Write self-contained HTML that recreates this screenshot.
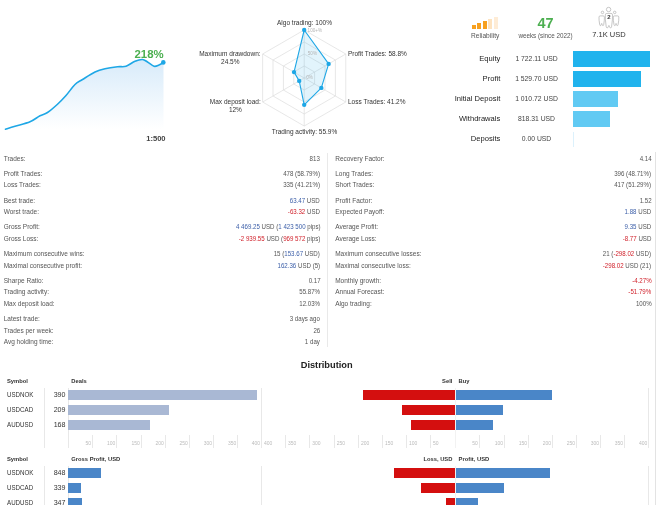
<!DOCTYPE html>
<html><head><meta charset="utf-8"><title>Signal statistics</title>
<style>
html,body{margin:0;padding:0;background:#fff;}
body{width:656px;height:505px;position:relative;overflow:hidden;font-family:"Liberation Sans", sans-serif;}
.t{position:absolute;white-space:nowrap;}
.b{position:absolute;}
</style></head><body>
<svg class="b" style="left:0;top:0" width="220" height="150" viewBox="0 0 220 150">
<defs><linearGradient id="g1" gradientUnits="userSpaceOnUse" x1="0" y1="60" x2="0" y2="129"><stop offset="0" stop-color="#d8ebfa"/><stop offset="1" stop-color="#ffffff"/></linearGradient></defs>
<path d="M5.50,129.25 C7.08,128.75 10.92,127.50 15.00,126.25 C19.08,125.00 25.83,123.50 30.00,121.75 C34.17,120.00 37.08,117.29 40.00,115.75 C42.92,114.21 44.58,114.42 47.50,112.50 C50.42,110.58 54.42,107.08 57.50,104.25 C60.58,101.42 63.08,98.79 66.00,95.50 C68.92,92.21 72.25,87.17 75.00,84.50 C77.75,81.83 79.17,81.58 82.50,79.50 C85.83,77.42 91.25,73.79 95.00,72.00 C98.75,70.21 101.25,69.62 105.00,68.75 C108.75,67.88 114.00,67.17 117.50,66.75 C121.00,66.33 123.08,67.17 126.00,66.25 C128.92,65.33 132.25,62.38 135.00,61.25 C137.75,60.12 140.42,59.38 142.50,59.50 C144.58,59.62 145.58,60.88 147.50,62.00 C149.42,63.12 152.08,65.75 154.00,66.25 C155.92,66.75 157.42,65.62 159.00,65.00 C160.58,64.38 162.75,62.92 163.50,62.50 L163.50,132 L5.50,132 Z" fill="url(#g1)"/>
<path d="M5.50,129.25 C7.08,128.75 10.92,127.50 15.00,126.25 C19.08,125.00 25.83,123.50 30.00,121.75 C34.17,120.00 37.08,117.29 40.00,115.75 C42.92,114.21 44.58,114.42 47.50,112.50 C50.42,110.58 54.42,107.08 57.50,104.25 C60.58,101.42 63.08,98.79 66.00,95.50 C68.92,92.21 72.25,87.17 75.00,84.50 C77.75,81.83 79.17,81.58 82.50,79.50 C85.83,77.42 91.25,73.79 95.00,72.00 C98.75,70.21 101.25,69.62 105.00,68.75 C108.75,67.88 114.00,67.17 117.50,66.75 C121.00,66.33 123.08,67.17 126.00,66.25 C128.92,65.33 132.25,62.38 135.00,61.25 C137.75,60.12 140.42,59.38 142.50,59.50 C144.58,59.62 145.58,60.88 147.50,62.00 C149.42,63.12 152.08,65.75 154.00,66.25 C155.92,66.75 157.42,65.62 159.00,65.00 C160.58,64.38 162.75,62.92 163.50,62.50" fill="none" stroke="#1ea7e6" stroke-width="1.6" stroke-linecap="round" stroke-linejoin="round"/>
<circle cx="163.3" cy="62.4" r="2.3" fill="#1ea7e6"/>
</svg>
<div class="t" style="top:48.40px;font-size:11.4px;color:#4caf50;line-height:12px;font-weight:bold;right:492.40px;">218%</div>
<div class="t" style="top:133.20px;font-size:7.6px;color:#444;line-height:12px;font-weight:bold;right:490.40px;">1:500</div>
<svg class="b" style="left:0;top:0" width="656" height="150" viewBox="0 0 656 150"><polygon points="304.20,66.00 314.59,72.00 314.59,84.00 304.20,90.00 293.81,84.00 293.81,72.00" fill="none" stroke="#dcdcdc" stroke-width="0.7"/><polygon points="304.20,54.00 324.98,66.00 324.98,90.00 304.20,102.00 283.42,90.00 283.42,66.00" fill="none" stroke="#dcdcdc" stroke-width="0.7"/><polygon points="304.20,42.00 335.38,60.00 335.38,96.00 304.20,114.00 273.02,96.00 273.02,60.00" fill="none" stroke="#dcdcdc" stroke-width="0.7"/><polygon points="304.20,30.00 345.77,54.00 345.77,102.00 304.20,126.00 262.63,102.00 262.63,54.00" fill="none" stroke="#dcdcdc" stroke-width="0.7"/><line x1="304.2" y1="78.0" x2="304.20" y2="30.00" stroke="#dcdcdc" stroke-width="0.7"/><line x1="304.2" y1="78.0" x2="345.77" y2="54.00" stroke="#dcdcdc" stroke-width="0.7"/><line x1="304.2" y1="78.0" x2="345.77" y2="102.00" stroke="#dcdcdc" stroke-width="0.7"/><line x1="304.2" y1="78.0" x2="304.20" y2="126.00" stroke="#dcdcdc" stroke-width="0.7"/><line x1="304.2" y1="78.0" x2="262.63" y2="102.00" stroke="#dcdcdc" stroke-width="0.7"/><line x1="304.2" y1="78.0" x2="262.63" y2="54.00" stroke="#dcdcdc" stroke-width="0.7"/><polygon points="304.20,30.00 328.64,63.89 321.33,87.89 304.20,104.83 299.21,80.88 294.02,72.12" fill="#1ea7e6" fill-opacity="0.13" stroke="#1ea7e6" stroke-width="1.1" stroke-linejoin="round"/><circle cx="304.20" cy="30.00" r="2.2" fill="#1ea7e6"/><circle cx="328.64" cy="63.89" r="2.2" fill="#1ea7e6"/><circle cx="321.33" cy="87.89" r="2.2" fill="#1ea7e6"/><circle cx="304.20" cy="104.83" r="2.2" fill="#1ea7e6"/><circle cx="299.21" cy="80.88" r="2.2" fill="#1ea7e6"/><circle cx="294.02" cy="72.12" r="2.2" fill="#1ea7e6"/></svg>
<div class="t" style="top:24.60px;font-size:4.6px;color:#b5b5b5;line-height:12px;left:307.60px;">100+%</div>
<div class="t" style="top:48.30px;font-size:4.6px;color:#b5b5b5;line-height:12px;left:307.80px;">50%</div>
<div class="t" style="top:72.00px;font-size:4.6px;color:#b5b5b5;line-height:12px;left:306.20px;">0%</div>
<div class="t" style="top:17.20px;font-size:6.5px;color:#333;line-height:12px;left:154.50px;width:300px;text-align:center;">Algo trading: 100%</div>
<div class="t" style="top:125.50px;font-size:6.5px;color:#333;line-height:12px;left:154.50px;width:300px;text-align:center;">Trading activity: 55.9%</div>
<div class="t" style="top:47.50px;font-size:6.5px;color:#333;line-height:12px;left:348.00px;">Profit Trades: 58.8%</div>
<div class="t" style="top:95.50px;font-size:6.5px;color:#333;line-height:12px;left:348.00px;">Loss Trades: 41.2%</div>
<div class="t" style="top:47.50px;font-size:6.5px;color:#333;line-height:12px;left:79.90px;width:300px;text-align:center;">Maximum drawdown:</div>
<div class="t" style="top:55.50px;font-size:6.5px;color:#333;line-height:12px;left:80.30px;width:300px;text-align:center;">24.5%</div>
<div class="t" style="top:95.50px;font-size:6.5px;color:#333;line-height:12px;left:85.30px;width:300px;text-align:center;">Max deposit load:</div>
<div class="t" style="top:103.50px;font-size:6.5px;color:#333;line-height:12px;left:85.40px;width:300px;text-align:center;">12%</div>
<div class="b" style="left:471.90px;top:25.20px;width:4.00px;height:4.00px;background:#f7a01e;"></div>
<div class="b" style="left:477.40px;top:23.20px;width:4.00px;height:6.00px;background:#f7a01e;"></div>
<div class="b" style="left:482.90px;top:21.20px;width:4.00px;height:8.00px;background:#f7a01e;"></div>
<div class="b" style="left:488.40px;top:19.20px;width:4.00px;height:10.00px;background:#fde3c0;"></div>
<div class="b" style="left:493.90px;top:17.20px;width:4.00px;height:12.00px;background:#feecd6;"></div>
<div class="t" style="top:29.50px;font-size:6.6px;color:#555;line-height:12px;left:335.20px;width:300px;text-align:center;">Reliability</div>
<div class="t" style="top:16.50px;font-size:14.5px;color:#4caf50;line-height:12px;font-weight:bold;left:395.50px;width:300px;text-align:center;">47</div>
<div class="t" style="top:29.50px;font-size:6.3px;color:#555;line-height:12px;left:395.50px;width:300px;text-align:center;">weeks (since 2022)</div>
<svg class="b" style="left:595px;top:2px" width="28" height="28" viewBox="595 2 28 28" fill="none" stroke="#b4b4b4" stroke-width="0.75">
<circle cx="608.6" cy="9.5" r="2.2"/>
<circle cx="602.5" cy="12.4" r="1.25"/>
<circle cx="614.7" cy="12.4" r="1.25"/>
<path d="M599.00,17.10 Q599.00,15.90 600.20,15.90 L603.20,15.90 Q604.40,15.90 604.40,17.10 L604.32,20.27 L603.70,24.70 Q603.59,25.60 602.94,25.60 Q602.29,25.60 602.19,24.70 L601.89,23.70 Q601.70,23.00 601.51,23.70 L601.21,24.70 Q601.11,25.60 600.46,25.60 Q599.81,25.60 599.70,24.70 L599.08,20.27 Z"/>
<path d="M613.30,17.10 Q613.30,15.90 614.50,15.90 L617.60,15.90 Q618.80,15.90 618.80,17.10 L618.72,20.27 L618.08,24.70 Q617.97,25.60 617.31,25.60 Q616.65,25.60 616.54,24.70 L616.24,23.70 Q616.05,23.00 615.86,23.70 L615.55,24.70 Q615.44,25.60 614.78,25.60 Q614.12,25.60 614.01,24.70 L613.38,20.27 Z"/>
<path d="M605.30,14.90 Q605.30,13.40 606.80,13.40 L611.00,13.40 Q612.50,13.40 612.50,14.90 L612.39,19.88 L611.56,26.90 Q611.42,27.80 610.56,27.80 Q609.69,27.80 609.55,26.90 L609.15,25.70 Q608.90,25.00 608.65,25.70 L608.25,26.90 Q608.11,27.80 607.24,27.80 Q606.38,27.80 606.24,26.90 L605.41,19.88 Z"/>
</svg>
<div class="t" style="top:11.10px;font-size:6px;color:#333;line-height:12px;font-weight:bold;left:458.90px;width:300px;text-align:center;">2</div>
<div class="t" style="top:29.00px;font-size:7.5px;color:#333;line-height:12px;left:459.00px;width:300px;text-align:center;">7.1K USD</div>
<div class="t" style="top:52.80px;font-size:7.6px;color:#222;line-height:12px;right:155.70px;">Equity</div>
<div class="t" style="top:52.80px;font-size:6.8px;color:#444;line-height:12px;left:386.50px;width:300px;text-align:center;">1 722.11 USD</div>
<div class="b" style="left:573.10px;top:50.90px;width:76.60px;height:15.80px;background:#21b3ed;"></div>
<div class="t" style="top:72.95px;font-size:7.6px;color:#222;line-height:12px;right:155.70px;">Profit</div>
<div class="t" style="top:72.95px;font-size:6.8px;color:#444;line-height:12px;left:386.50px;width:300px;text-align:center;">1 529.70 USD</div>
<div class="b" style="left:573.10px;top:71.05px;width:67.90px;height:15.80px;background:#21b3ed;"></div>
<div class="t" style="top:93.10px;font-size:7.6px;color:#222;line-height:12px;right:155.70px;">Initial Deposit</div>
<div class="t" style="top:93.10px;font-size:6.8px;color:#444;line-height:12px;left:386.50px;width:300px;text-align:center;">1 010.72 USD</div>
<div class="b" style="left:573.10px;top:91.20px;width:44.60px;height:15.80px;background:#61caf3;"></div>
<div class="t" style="top:113.25px;font-size:7.6px;color:#222;line-height:12px;right:155.70px;">Withdrawals</div>
<div class="t" style="top:113.25px;font-size:6.8px;color:#444;line-height:12px;left:386.50px;width:300px;text-align:center;">818.31 USD</div>
<div class="b" style="left:573.10px;top:111.35px;width:36.80px;height:15.80px;background:#61caf3;"></div>
<div class="t" style="top:133.40px;font-size:7.6px;color:#222;line-height:12px;right:155.70px;">Deposits</div>
<div class="t" style="top:133.40px;font-size:6.8px;color:#444;line-height:12px;left:386.50px;width:300px;text-align:center;">0.00 USD</div>
<div class="b" style="left:573.10px;top:131.50px;width:0.60px;height:15.80px;background:#dcf1fc;"></div>
<div class="b" style="left:327.00px;top:153.00px;width:0.80px;height:193.50px;background:#e9e9e9;"></div>
<div class="b" style="left:655.00px;top:152.00px;width:1.00px;height:353.00px;background:#e3e3e3;"></div>
<div class="t" style="top:152.60px;font-size:6.5px;color:#555;line-height:12px;left:3.70px;">Trades:</div>
<div class="t" style="top:152.60px;font-size:6.5px;color:#555;line-height:12px;right:335.80px;transform:scaleX(0.945);transform-origin:right center;">813</div>
<div class="t" style="top:167.90px;font-size:6.5px;color:#555;line-height:12px;left:3.70px;">Profit Trades:</div>
<div class="t" style="top:167.90px;font-size:6.5px;color:#555;line-height:12px;right:335.80px;transform:scaleX(0.945);transform-origin:right center;">478 (58.79%)</div>
<div class="t" style="top:179.35px;font-size:6.5px;color:#555;line-height:12px;left:3.70px;">Loss Trades:</div>
<div class="t" style="top:179.35px;font-size:6.5px;color:#555;line-height:12px;right:335.80px;transform:scaleX(0.945);transform-origin:right center;">335 (41.21%)</div>
<div class="t" style="top:194.65px;font-size:6.5px;color:#555;line-height:12px;left:3.70px;">Best trade:</div>
<div class="t" style="top:194.65px;font-size:6.5px;color:#555;line-height:12px;right:335.80px;transform:scaleX(0.945);transform-origin:right center;"><span style="color:#3b5ea8">63.47</span> USD</div>
<div class="t" style="top:206.10px;font-size:6.5px;color:#555;line-height:12px;left:3.70px;">Worst trade:</div>
<div class="t" style="top:206.10px;font-size:6.5px;color:#555;line-height:12px;right:335.80px;transform:scaleX(0.945);transform-origin:right center;"><span style="color:#d0202a">-63.32</span> USD</div>
<div class="t" style="top:221.40px;font-size:6.5px;color:#555;line-height:12px;left:3.70px;">Gross Profit:</div>
<div class="t" style="top:221.40px;font-size:6.5px;color:#555;line-height:12px;right:335.80px;transform:scaleX(0.945);transform-origin:right center;"><span style="color:#3b5ea8">4 469.25</span> USD (<span style="color:#3b5ea8">1 423 500</span> pips)</div>
<div class="t" style="top:232.85px;font-size:6.5px;color:#555;line-height:12px;left:3.70px;">Gross Loss:</div>
<div class="t" style="top:232.85px;font-size:6.5px;color:#555;line-height:12px;right:335.80px;transform:scaleX(0.945);transform-origin:right center;"><span style="color:#d0202a">-2 939.55</span> USD (<span style="color:#d0202a">969 572</span> pips)</div>
<div class="t" style="top:248.15px;font-size:6.5px;color:#555;line-height:12px;left:3.70px;">Maximum consecutive wins:</div>
<div class="t" style="top:248.15px;font-size:6.5px;color:#555;line-height:12px;right:335.80px;transform:scaleX(0.945);transform-origin:right center;">15 (<span style="color:#3b5ea8">153.67</span> USD)</div>
<div class="t" style="top:259.60px;font-size:6.5px;color:#555;line-height:12px;left:3.70px;">Maximal consecutive profit:</div>
<div class="t" style="top:259.60px;font-size:6.5px;color:#555;line-height:12px;right:335.80px;transform:scaleX(0.945);transform-origin:right center;"><span style="color:#3b5ea8">162.36</span> USD (5)</div>
<div class="t" style="top:274.90px;font-size:6.5px;color:#555;line-height:12px;left:3.70px;">Sharpe Ratio:</div>
<div class="t" style="top:274.90px;font-size:6.5px;color:#555;line-height:12px;right:335.80px;transform:scaleX(0.945);transform-origin:right center;">0.17</div>
<div class="t" style="top:286.35px;font-size:6.5px;color:#555;line-height:12px;left:3.70px;">Trading activity:</div>
<div class="t" style="top:286.35px;font-size:6.5px;color:#555;line-height:12px;right:335.80px;transform:scaleX(0.945);transform-origin:right center;">55.87%</div>
<div class="t" style="top:297.80px;font-size:6.5px;color:#555;line-height:12px;left:3.70px;">Max deposit load:</div>
<div class="t" style="top:297.80px;font-size:6.5px;color:#555;line-height:12px;right:335.80px;transform:scaleX(0.945);transform-origin:right center;">12.03%</div>
<div class="t" style="top:313.10px;font-size:6.5px;color:#555;line-height:12px;left:3.70px;">Latest trade:</div>
<div class="t" style="top:313.10px;font-size:6.5px;color:#555;line-height:12px;right:335.80px;transform:scaleX(0.945);transform-origin:right center;">3 days ago</div>
<div class="t" style="top:324.55px;font-size:6.5px;color:#555;line-height:12px;left:3.70px;">Trades per week:</div>
<div class="t" style="top:324.55px;font-size:6.5px;color:#555;line-height:12px;right:335.80px;transform:scaleX(0.945);transform-origin:right center;">26</div>
<div class="t" style="top:336.00px;font-size:6.5px;color:#555;line-height:12px;left:3.70px;">Avg holding time:</div>
<div class="t" style="top:336.00px;font-size:6.5px;color:#555;line-height:12px;right:335.80px;transform:scaleX(0.945);transform-origin:right center;">1 day</div>
<div class="t" style="top:152.60px;font-size:6.5px;color:#555;line-height:12px;left:335.20px;">Recovery Factor:</div>
<div class="t" style="top:152.60px;font-size:6.5px;color:#555;line-height:12px;right:4.70px;transform:scaleX(0.945);transform-origin:right center;">4.14</div>
<div class="t" style="top:167.90px;font-size:6.5px;color:#555;line-height:12px;left:335.20px;">Long Trades:</div>
<div class="t" style="top:167.90px;font-size:6.5px;color:#555;line-height:12px;right:4.70px;transform:scaleX(0.945);transform-origin:right center;">396 (48.71%)</div>
<div class="t" style="top:179.35px;font-size:6.5px;color:#555;line-height:12px;left:335.20px;">Short Trades:</div>
<div class="t" style="top:179.35px;font-size:6.5px;color:#555;line-height:12px;right:4.70px;transform:scaleX(0.945);transform-origin:right center;">417 (51.29%)</div>
<div class="t" style="top:194.65px;font-size:6.5px;color:#555;line-height:12px;left:335.20px;">Profit Factor:</div>
<div class="t" style="top:194.65px;font-size:6.5px;color:#555;line-height:12px;right:4.70px;transform:scaleX(0.945);transform-origin:right center;">1.52</div>
<div class="t" style="top:206.10px;font-size:6.5px;color:#555;line-height:12px;left:335.20px;">Expected Payoff:</div>
<div class="t" style="top:206.10px;font-size:6.5px;color:#555;line-height:12px;right:4.70px;transform:scaleX(0.945);transform-origin:right center;"><span style="color:#3b5ea8">1.88</span> USD</div>
<div class="t" style="top:221.40px;font-size:6.5px;color:#555;line-height:12px;left:335.20px;">Average Profit:</div>
<div class="t" style="top:221.40px;font-size:6.5px;color:#555;line-height:12px;right:4.70px;transform:scaleX(0.945);transform-origin:right center;"><span style="color:#3b5ea8">9.35</span> USD</div>
<div class="t" style="top:232.85px;font-size:6.5px;color:#555;line-height:12px;left:335.20px;">Average Loss:</div>
<div class="t" style="top:232.85px;font-size:6.5px;color:#555;line-height:12px;right:4.70px;transform:scaleX(0.945);transform-origin:right center;"><span style="color:#d0202a">-8.77</span> USD</div>
<div class="t" style="top:248.15px;font-size:6.5px;color:#555;line-height:12px;left:335.20px;">Maximum consecutive losses:</div>
<div class="t" style="top:248.15px;font-size:6.5px;color:#555;line-height:12px;right:4.70px;transform:scaleX(0.945);transform-origin:right center;">21 (<span style="color:#d0202a">-298.02</span> USD)</div>
<div class="t" style="top:259.60px;font-size:6.5px;color:#555;line-height:12px;left:335.20px;">Maximal consecutive loss:</div>
<div class="t" style="top:259.60px;font-size:6.5px;color:#555;line-height:12px;right:4.70px;transform:scaleX(0.945);transform-origin:right center;"><span style="color:#d0202a">-298.02</span> USD (21)</div>
<div class="t" style="top:274.90px;font-size:6.5px;color:#555;line-height:12px;left:335.20px;">Monthly growth:</div>
<div class="t" style="top:274.90px;font-size:6.5px;color:#555;line-height:12px;right:4.70px;transform:scaleX(0.945);transform-origin:right center;"><span style="color:#d0202a">-4.27%</span></div>
<div class="t" style="top:286.35px;font-size:6.5px;color:#555;line-height:12px;left:335.20px;">Annual Forecast:</div>
<div class="t" style="top:286.35px;font-size:6.5px;color:#555;line-height:12px;right:4.70px;transform:scaleX(0.945);transform-origin:right center;"><span style="color:#d0202a">-51.79%</span></div>
<div class="t" style="top:297.80px;font-size:6.5px;color:#555;line-height:12px;left:335.20px;">Algo trading:</div>
<div class="t" style="top:297.80px;font-size:6.5px;color:#555;line-height:12px;right:4.70px;transform:scaleX(0.945);transform-origin:right center;">100%</div>
<div class="t" style="top:358.60px;font-size:9.27px;color:#222;line-height:12px;font-weight:bold;left:176.70px;width:300px;text-align:center;">Distribution</div>
<div class="t" style="top:375.20px;font-size:5.8px;color:#333;line-height:12px;font-weight:bold;left:6.90px;">Symbol</div>
<div class="t" style="top:375.20px;font-size:5.8px;color:#333;line-height:12px;font-weight:bold;left:71.30px;">Deals</div>
<div class="t" style="top:375.20px;font-size:5.8px;color:#333;line-height:12px;font-weight:bold;right:203.60px;">Sell</div>
<div class="t" style="top:375.20px;font-size:5.8px;color:#333;line-height:12px;font-weight:bold;left:458.60px;">Buy</div>
<div class="b" style="left:44.20px;top:388.10px;width:0.80px;height:59.50px;background:#e8e8e8;"></div>
<div class="b" style="left:67.90px;top:388.10px;width:0.80px;height:59.50px;background:#e8e8e8;"></div>
<div class="b" style="left:261.10px;top:388.10px;width:0.80px;height:59.50px;background:#e8e8e8;"></div>
<div class="b" style="left:648.35px;top:388.10px;width:0.80px;height:59.50px;background:#e8e8e8;"></div>
<div class="t" style="top:388.90px;font-size:6.8px;color:#333;line-height:12px;left:6.90px;transform:scaleX(0.91);transform-origin:left center;">USDNOK</div>
<div class="t" style="top:388.90px;font-size:7.1px;color:#333;line-height:12px;right:590.50px;">390</div>
<div class="b" style="left:68.30px;top:389.90px;width:188.56px;height:10.00px;background:#a9b8d4;"></div>
<div class="b" style="left:362.75px;top:389.90px;width:92.25px;height:10.00px;background:#d40f0f;"></div>
<div class="b" style="left:455.50px;top:389.90px;width:96.60px;height:10.00px;background:#4a86c8;"></div>
<div class="t" style="top:403.90px;font-size:6.8px;color:#333;line-height:12px;left:6.90px;transform:scaleX(0.91);transform-origin:left center;">USDCAD</div>
<div class="t" style="top:403.90px;font-size:7.1px;color:#333;line-height:12px;right:590.50px;">209</div>
<div class="b" style="left:68.30px;top:404.90px;width:101.05px;height:10.00px;background:#a9b8d4;"></div>
<div class="b" style="left:401.60px;top:404.90px;width:53.41px;height:10.00px;background:#d40f0f;"></div>
<div class="b" style="left:455.50px;top:404.90px;width:47.82px;height:10.00px;background:#4a86c8;"></div>
<div class="t" style="top:418.90px;font-size:6.8px;color:#333;line-height:12px;left:6.90px;transform:scaleX(0.91);transform-origin:left center;">AUDUSD</div>
<div class="t" style="top:418.90px;font-size:7.1px;color:#333;line-height:12px;right:590.50px;">168</div>
<div class="b" style="left:68.30px;top:419.90px;width:81.23px;height:10.00px;background:#a9b8d4;"></div>
<div class="b" style="left:411.31px;top:419.90px;width:43.70px;height:10.00px;background:#d40f0f;"></div>
<div class="b" style="left:455.50px;top:419.90px;width:37.67px;height:10.00px;background:#4a86c8;"></div>
<div class="b" style="left:454.90px;top:388.10px;width:0.70px;height:59.50px;background:#f2f2f2;"></div>
<div class="b" style="left:92.10px;top:435.00px;width:0.80px;height:12.60px;background:#e8e8e8;"></div>
<div class="t" style="top:437.00px;font-size:5px;color:#bbb;line-height:12px;right:565.00px;">50</div>
<div class="b" style="left:116.35px;top:435.00px;width:0.80px;height:12.60px;background:#e8e8e8;"></div>
<div class="t" style="top:437.00px;font-size:5px;color:#bbb;line-height:12px;right:540.75px;">100</div>
<div class="b" style="left:140.85px;top:435.00px;width:0.80px;height:12.60px;background:#e8e8e8;"></div>
<div class="t" style="top:437.00px;font-size:5px;color:#bbb;line-height:12px;right:516.25px;">150</div>
<div class="b" style="left:164.85px;top:435.00px;width:0.80px;height:12.60px;background:#e8e8e8;"></div>
<div class="t" style="top:437.00px;font-size:5px;color:#bbb;line-height:12px;right:492.25px;">200</div>
<div class="b" style="left:189.00px;top:435.00px;width:0.80px;height:12.60px;background:#e8e8e8;"></div>
<div class="t" style="top:437.00px;font-size:5px;color:#bbb;line-height:12px;right:468.10px;">250</div>
<div class="b" style="left:213.10px;top:435.00px;width:0.80px;height:12.60px;background:#e8e8e8;"></div>
<div class="t" style="top:437.00px;font-size:5px;color:#bbb;line-height:12px;right:444.00px;">300</div>
<div class="b" style="left:237.35px;top:435.00px;width:0.80px;height:12.60px;background:#e8e8e8;"></div>
<div class="t" style="top:437.00px;font-size:5px;color:#bbb;line-height:12px;right:419.75px;">350</div>
<div class="t" style="top:437.00px;font-size:5px;color:#bbb;line-height:12px;right:396.00px;">400</div>
<div class="b" style="left:430.10px;top:435.00px;width:0.80px;height:12.60px;background:#e8e8e8;"></div>
<div class="t" style="top:437.00px;font-size:5px;color:#bbb;line-height:12px;left:432.90px;">50</div>
<div class="b" style="left:406.10px;top:435.00px;width:0.80px;height:12.60px;background:#e8e8e8;"></div>
<div class="t" style="top:437.00px;font-size:5px;color:#bbb;line-height:12px;left:408.90px;">100</div>
<div class="b" style="left:382.10px;top:435.00px;width:0.80px;height:12.60px;background:#e8e8e8;"></div>
<div class="t" style="top:437.00px;font-size:5px;color:#bbb;line-height:12px;left:384.90px;">150</div>
<div class="b" style="left:358.10px;top:435.00px;width:0.80px;height:12.60px;background:#e8e8e8;"></div>
<div class="t" style="top:437.00px;font-size:5px;color:#bbb;line-height:12px;left:360.90px;">200</div>
<div class="b" style="left:334.00px;top:435.00px;width:0.80px;height:12.60px;background:#e8e8e8;"></div>
<div class="t" style="top:437.00px;font-size:5px;color:#bbb;line-height:12px;left:336.80px;">250</div>
<div class="b" style="left:309.40px;top:435.00px;width:0.80px;height:12.60px;background:#e8e8e8;"></div>
<div class="t" style="top:437.00px;font-size:5px;color:#bbb;line-height:12px;left:312.20px;">300</div>
<div class="b" style="left:285.10px;top:435.00px;width:0.80px;height:12.60px;background:#e8e8e8;"></div>
<div class="t" style="top:437.00px;font-size:5px;color:#bbb;line-height:12px;left:287.90px;">350</div>
<div class="t" style="top:437.00px;font-size:5px;color:#bbb;line-height:12px;left:263.90px;">400</div>
<div class="b" style="left:478.85px;top:435.00px;width:0.80px;height:12.60px;background:#e8e8e8;"></div>
<div class="t" style="top:437.00px;font-size:5px;color:#bbb;line-height:12px;right:178.25px;">50</div>
<div class="b" style="left:504.10px;top:435.00px;width:0.80px;height:12.60px;background:#e8e8e8;"></div>
<div class="t" style="top:437.00px;font-size:5px;color:#bbb;line-height:12px;right:153.00px;">100</div>
<div class="b" style="left:528.10px;top:435.00px;width:0.80px;height:12.60px;background:#e8e8e8;"></div>
<div class="t" style="top:437.00px;font-size:5px;color:#bbb;line-height:12px;right:129.00px;">150</div>
<div class="b" style="left:552.10px;top:435.00px;width:0.80px;height:12.60px;background:#e8e8e8;"></div>
<div class="t" style="top:437.00px;font-size:5px;color:#bbb;line-height:12px;right:105.00px;">200</div>
<div class="b" style="left:576.10px;top:435.00px;width:0.80px;height:12.60px;background:#e8e8e8;"></div>
<div class="t" style="top:437.00px;font-size:5px;color:#bbb;line-height:12px;right:81.00px;">250</div>
<div class="b" style="left:600.10px;top:435.00px;width:0.80px;height:12.60px;background:#e8e8e8;"></div>
<div class="t" style="top:437.00px;font-size:5px;color:#bbb;line-height:12px;right:57.00px;">300</div>
<div class="b" style="left:624.10px;top:435.00px;width:0.80px;height:12.60px;background:#e8e8e8;"></div>
<div class="t" style="top:437.00px;font-size:5px;color:#bbb;line-height:12px;right:33.00px;">350</div>
<div class="t" style="top:437.00px;font-size:5px;color:#bbb;line-height:12px;right:8.75px;">400</div>
<div class="t" style="top:453.30px;font-size:5.8px;color:#333;line-height:12px;font-weight:bold;left:6.90px;">Symbol</div>
<div class="t" style="top:453.30px;font-size:5.8px;color:#333;line-height:12px;font-weight:bold;left:71.30px;">Gross Profit, USD</div>
<div class="t" style="top:453.30px;font-size:5.8px;color:#333;line-height:12px;font-weight:bold;right:203.60px;">Loss, USD</div>
<div class="t" style="top:453.30px;font-size:5.8px;color:#333;line-height:12px;font-weight:bold;left:458.60px;">Profit, USD</div>
<div class="b" style="left:44.20px;top:466.20px;width:0.80px;height:59.50px;background:#e8e8e8;"></div>
<div class="b" style="left:67.90px;top:466.20px;width:0.80px;height:59.50px;background:#e8e8e8;"></div>
<div class="b" style="left:261.10px;top:466.20px;width:0.80px;height:59.50px;background:#e8e8e8;"></div>
<div class="b" style="left:648.35px;top:466.20px;width:0.80px;height:59.50px;background:#e8e8e8;"></div>
<div class="t" style="top:467.00px;font-size:6.8px;color:#333;line-height:12px;left:6.90px;transform:scaleX(0.91);transform-origin:left center;">USDNOK</div>
<div class="t" style="top:467.00px;font-size:7.1px;color:#333;line-height:12px;right:590.50px;">848</div>
<div class="b" style="left:68.30px;top:468.00px;width:32.80px;height:10.00px;background:#4a86c8;"></div>
<div class="b" style="left:393.50px;top:468.00px;width:61.50px;height:10.00px;background:#d40f0f;"></div>
<div class="b" style="left:455.50px;top:468.00px;width:94.50px;height:10.00px;background:#4a86c8;"></div>
<div class="t" style="top:482.00px;font-size:6.8px;color:#333;line-height:12px;left:6.90px;transform:scaleX(0.91);transform-origin:left center;">USDCAD</div>
<div class="t" style="top:482.00px;font-size:7.1px;color:#333;line-height:12px;right:590.50px;">339</div>
<div class="b" style="left:68.30px;top:483.00px;width:12.70px;height:10.00px;background:#4a86c8;"></div>
<div class="b" style="left:420.60px;top:483.00px;width:34.40px;height:10.00px;background:#d40f0f;"></div>
<div class="b" style="left:455.50px;top:483.00px;width:48.00px;height:10.00px;background:#4a86c8;"></div>
<div class="t" style="top:497.00px;font-size:6.8px;color:#333;line-height:12px;left:6.90px;transform:scaleX(0.91);transform-origin:left center;">AUDUSD</div>
<div class="t" style="top:497.00px;font-size:7.1px;color:#333;line-height:12px;right:590.50px;">347</div>
<div class="b" style="left:68.30px;top:498.00px;width:13.30px;height:10.00px;background:#4a86c8;"></div>
<div class="b" style="left:445.80px;top:498.00px;width:9.20px;height:10.00px;background:#d40f0f;"></div>
<div class="b" style="left:455.50px;top:498.00px;width:22.80px;height:10.00px;background:#4a86c8;"></div>
<div class="b" style="left:454.90px;top:466.20px;width:0.70px;height:59.50px;background:#f2f2f2;"></div>
<div class="b" style="left:92.10px;top:513.10px;width:0.80px;height:12.60px;background:#e8e8e8;"></div>
<div class="t" style="top:515.10px;font-size:5px;color:#bbb;line-height:12px;right:565.00px;">50</div>
<div class="b" style="left:116.35px;top:513.10px;width:0.80px;height:12.60px;background:#e8e8e8;"></div>
<div class="t" style="top:515.10px;font-size:5px;color:#bbb;line-height:12px;right:540.75px;">100</div>
<div class="b" style="left:140.85px;top:513.10px;width:0.80px;height:12.60px;background:#e8e8e8;"></div>
<div class="t" style="top:515.10px;font-size:5px;color:#bbb;line-height:12px;right:516.25px;">150</div>
<div class="b" style="left:164.85px;top:513.10px;width:0.80px;height:12.60px;background:#e8e8e8;"></div>
<div class="t" style="top:515.10px;font-size:5px;color:#bbb;line-height:12px;right:492.25px;">200</div>
<div class="b" style="left:189.00px;top:513.10px;width:0.80px;height:12.60px;background:#e8e8e8;"></div>
<div class="t" style="top:515.10px;font-size:5px;color:#bbb;line-height:12px;right:468.10px;">250</div>
<div class="b" style="left:213.10px;top:513.10px;width:0.80px;height:12.60px;background:#e8e8e8;"></div>
<div class="t" style="top:515.10px;font-size:5px;color:#bbb;line-height:12px;right:444.00px;">300</div>
<div class="b" style="left:237.35px;top:513.10px;width:0.80px;height:12.60px;background:#e8e8e8;"></div>
<div class="t" style="top:515.10px;font-size:5px;color:#bbb;line-height:12px;right:419.75px;">350</div>
<div class="t" style="top:515.10px;font-size:5px;color:#bbb;line-height:12px;right:396.00px;">400</div>
<div class="b" style="left:430.10px;top:513.10px;width:0.80px;height:12.60px;background:#e8e8e8;"></div>
<div class="t" style="top:515.10px;font-size:5px;color:#bbb;line-height:12px;left:432.90px;">50</div>
<div class="b" style="left:406.10px;top:513.10px;width:0.80px;height:12.60px;background:#e8e8e8;"></div>
<div class="t" style="top:515.10px;font-size:5px;color:#bbb;line-height:12px;left:408.90px;">100</div>
<div class="b" style="left:382.10px;top:513.10px;width:0.80px;height:12.60px;background:#e8e8e8;"></div>
<div class="t" style="top:515.10px;font-size:5px;color:#bbb;line-height:12px;left:384.90px;">150</div>
<div class="b" style="left:358.10px;top:513.10px;width:0.80px;height:12.60px;background:#e8e8e8;"></div>
<div class="t" style="top:515.10px;font-size:5px;color:#bbb;line-height:12px;left:360.90px;">200</div>
<div class="b" style="left:334.00px;top:513.10px;width:0.80px;height:12.60px;background:#e8e8e8;"></div>
<div class="t" style="top:515.10px;font-size:5px;color:#bbb;line-height:12px;left:336.80px;">250</div>
<div class="b" style="left:309.40px;top:513.10px;width:0.80px;height:12.60px;background:#e8e8e8;"></div>
<div class="t" style="top:515.10px;font-size:5px;color:#bbb;line-height:12px;left:312.20px;">300</div>
<div class="b" style="left:285.10px;top:513.10px;width:0.80px;height:12.60px;background:#e8e8e8;"></div>
<div class="t" style="top:515.10px;font-size:5px;color:#bbb;line-height:12px;left:287.90px;">350</div>
<div class="t" style="top:515.10px;font-size:5px;color:#bbb;line-height:12px;left:263.90px;">400</div>
<div class="b" style="left:478.85px;top:513.10px;width:0.80px;height:12.60px;background:#e8e8e8;"></div>
<div class="t" style="top:515.10px;font-size:5px;color:#bbb;line-height:12px;right:178.25px;">50</div>
<div class="b" style="left:504.10px;top:513.10px;width:0.80px;height:12.60px;background:#e8e8e8;"></div>
<div class="t" style="top:515.10px;font-size:5px;color:#bbb;line-height:12px;right:153.00px;">100</div>
<div class="b" style="left:528.10px;top:513.10px;width:0.80px;height:12.60px;background:#e8e8e8;"></div>
<div class="t" style="top:515.10px;font-size:5px;color:#bbb;line-height:12px;right:129.00px;">150</div>
<div class="b" style="left:552.10px;top:513.10px;width:0.80px;height:12.60px;background:#e8e8e8;"></div>
<div class="t" style="top:515.10px;font-size:5px;color:#bbb;line-height:12px;right:105.00px;">200</div>
<div class="b" style="left:576.10px;top:513.10px;width:0.80px;height:12.60px;background:#e8e8e8;"></div>
<div class="t" style="top:515.10px;font-size:5px;color:#bbb;line-height:12px;right:81.00px;">250</div>
<div class="b" style="left:600.10px;top:513.10px;width:0.80px;height:12.60px;background:#e8e8e8;"></div>
<div class="t" style="top:515.10px;font-size:5px;color:#bbb;line-height:12px;right:57.00px;">300</div>
<div class="b" style="left:624.10px;top:513.10px;width:0.80px;height:12.60px;background:#e8e8e8;"></div>
<div class="t" style="top:515.10px;font-size:5px;color:#bbb;line-height:12px;right:33.00px;">350</div>
<div class="t" style="top:515.10px;font-size:5px;color:#bbb;line-height:12px;right:8.75px;">400</div>
</body></html>
